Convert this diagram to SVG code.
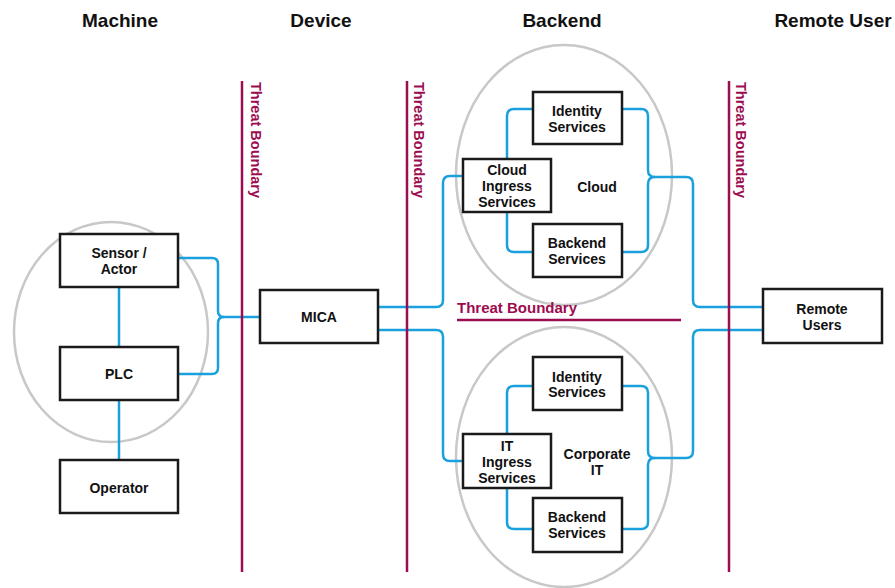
<svg xmlns="http://www.w3.org/2000/svg" width="895" height="588" viewBox="0 0 895 588">
<style>
.hdr{font-family:"Liberation Sans",Arial,sans-serif;font-weight:bold;font-size:19px;fill:#111;text-anchor:middle}
.lbl{font-family:"Liberation Sans",Arial,sans-serif;font-weight:bold;font-size:14px;fill:#111;text-anchor:middle}
.box{fill:#fff;stroke:#1a1a1a;stroke-width:2.5}
.ell{fill:none;stroke:#c8c8c8;stroke-width:2.5}
.con{fill:none;stroke:#1aa0dc;stroke-width:2.5}
.tb{stroke:#9c0c50;stroke-width:2.5;fill:none}
.tbt{font-family:"Liberation Sans",Arial,sans-serif;font-size:14.5px;font-weight:bold;fill:#9c0c50}
.tbh{font-family:"Liberation Sans",Arial,sans-serif;font-size:15px;font-weight:bold;fill:#9c0c50}
</style>
<rect width="895" height="588" fill="#fff"/>
<g id="headers">
<text class="hdr" x="120" y="27">Machine</text>
<text class="hdr" x="321" y="27">Device</text>
<text class="hdr" x="562" y="27">Backend</text>
<text class="hdr" x="833" y="27">Remote User</text>
</g>
<g id="zones">
<ellipse class="ell" cx="111" cy="332" rx="97" ry="110"/>
<ellipse class="ell" cx="564" cy="175" rx="108" ry="130"/>
<ellipse class="ell" cx="564" cy="457" rx="108" ry="130"/>
<text class="lbl" x="597" y="192">Cloud</text>
<text class="lbl" x="597" y="459">Corporate</text>
<text class="lbl" x="597" y="475">IT</text>
</g>
<g id="connectors">
<path class="con" d="M178,258 H212 Q218,258 218,264 V311 Q218,317 224,317 H260"/>
<path class="con" d="M178,374 H212 Q218,374 218,368 V323 Q218,317 224,317"/>
<path class="con" d="M119,287 V347"/>
<path class="con" d="M119,400 V460"/>
<path class="con" d="M378,307 H436 Q443,307 443,300 V183 Q443,176 450,176 H463"/>
<path class="con" d="M378,330 H436 Q443,330 443,337 V454 Q443,461 450,461 H463"/>
<path class="con" d="M507,159 V116 Q507,109 514,109 H533"/>
<path class="con" d="M507,212 V245 Q507,252 514,252 H533"/>
<path class="con" d="M622,109 H641 Q648,109 648,116 V170 Q648,177 655,177"/>
<path class="con" d="M622,252 H641 Q648,252 648,245 V184 Q648,177 655,177 H686 Q693,177 693,184 V300 Q693,307 700,307 H763"/>
<path class="con" d="M507,434 V393 Q507,386 514,386 H533"/>
<path class="con" d="M507,488 V522 Q507,529 514,529 H533"/>
<path class="con" d="M622,386 H641 Q648,386 648,393 V451 Q648,458 655,458"/>
<path class="con" d="M622,529 H641 Q648,529 648,522 V465 Q648,458 655,458 H686 Q693,458 693,451 V337 Q693,330 700,330 H763"/>
</g>
<g id="threat-boundaries">
<line class="tb" x1="242" y1="81" x2="242" y2="572"/>
<line class="tb" x1="407" y1="81" x2="407" y2="572"/>
<line class="tb" x1="729" y1="81" x2="729" y2="572"/>
<text class="tbt" transform="translate(250.5,82) rotate(90)">Threat Boundary</text>
<text class="tbt" transform="translate(413.5,82) rotate(90)">Threat Boundary</text>
<text class="tbt" transform="translate(735.5,82) rotate(90)">Threat Boundary</text>
<line class="tb" x1="457" y1="320" x2="681" y2="320"/>
<text class="tbh" x="457" y="313">Threat Boundary</text>
</g>
<g id="sensor-actor"><rect class="box" x="60" y="234" width="118" height="53"/><text class="lbl" x="119" y="258">Sensor /</text><text class="lbl" x="119" y="274">Actor</text></g>
<g id="plc"><rect class="box" x="60" y="347" width="118" height="53"/><text class="lbl" x="119" y="379">PLC</text></g>
<g id="operator"><rect class="box" x="60" y="460" width="118" height="53"/><text class="lbl" x="119" y="493">Operator</text></g>
<g id="mica"><rect class="box" x="260" y="290" width="118" height="53"/><text class="lbl" x="319" y="322">MICA</text></g>
<g id="remote-users"><rect class="box" x="763" y="289" width="119" height="54"/><text class="lbl" x="822" y="314">Remote</text><text class="lbl" x="822" y="330">Users</text></g>
<g id="cloud-identity"><rect class="box" x="533" y="92" width="89" height="52"/><text class="lbl" x="577" y="116">Identity</text><text class="lbl" x="577" y="132">Services</text></g>
<g id="cloud-ingress"><rect class="box" x="463" y="159" width="88" height="53"/><text class="lbl" x="507" y="175">Cloud</text><text class="lbl" x="507" y="191">Ingress</text><text class="lbl" x="507" y="207">Services</text></g>
<g id="cloud-backend"><rect class="box" x="533" y="224" width="89" height="53"/><text class="lbl" x="577" y="248">Backend</text><text class="lbl" x="577" y="264">Services</text></g>
<g id="it-identity"><rect class="box" x="533" y="357" width="89" height="53"/><text class="lbl" x="577" y="382">Identity</text><text class="lbl" x="577" y="397">Services</text></g>
<g id="it-ingress"><rect class="box" x="463" y="434" width="88" height="54"/><text class="lbl" x="507" y="451">IT</text><text class="lbl" x="507" y="467">Ingress</text><text class="lbl" x="507" y="483">Services</text></g>
<g id="it-backend"><rect class="box" x="533" y="498" width="89" height="54"/><text class="lbl" x="577" y="522">Backend</text><text class="lbl" x="577" y="538">Services</text></g>
</svg>
